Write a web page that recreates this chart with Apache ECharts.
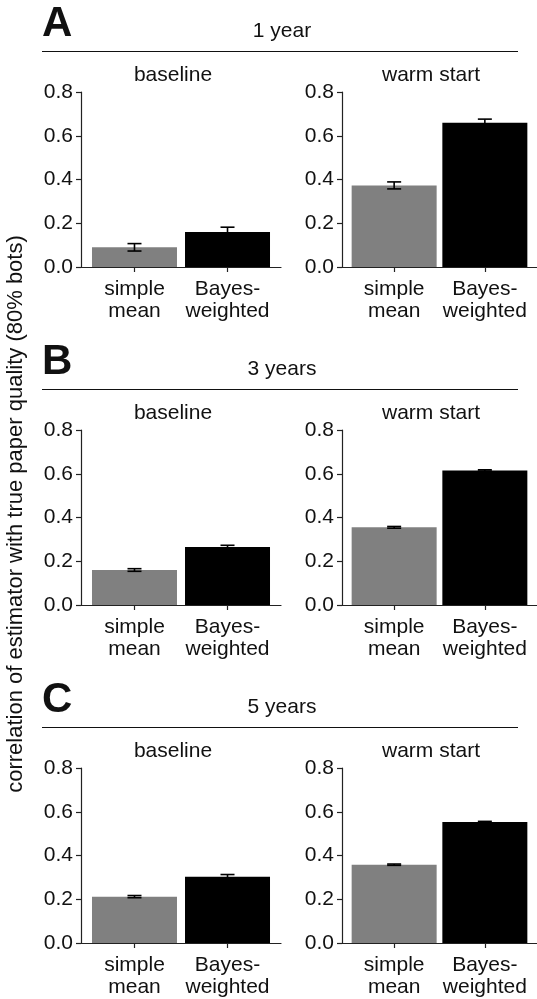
<!DOCTYPE html>
<html>
<head>
<meta charset="UTF-8">
<title>estimator correlation</title>
<script src="https://cdn.jsdelivr.net/npm/echarts@6/dist/echarts.min.js"></script>
</head>
<body style="margin:0;background:#fff">
<div id="main" style="width:537px;height:999px;"></div>
<script>
// data
var categories = ['simple\nmean', 'Bayes-\nweighted'];
var horizons = ['1 year', '3 years', '5 years'];
var panelLetters = ['A', 'B', 'C'];
var conditions = ['baseline', 'warm start'];
// [simple mean, Bayes-weighted] for each horizon
var baselineMeans = [[0.090, 0.160], [0.160, 0.265], [0.212, 0.303]];
var baselineErr   = [[0.017, 0.022], [0.006, 0.008], [0.005, 0.010]];
var warmMeans     = [[0.373, 0.660], [0.355, 0.615], [0.358, 0.553]];
var warmErr       = [[0.016, 0.016], [0.004, 0.003], [0.003, 0.003]];
var barColors = ['#808080', '#000000'];

var FONT = '"Liberation Sans", Arial, sans-serif';
var rowStep = 338;
var gridTop0 = 92, gridH = 175;
var gridLefts = [81, 342], gridW = 200;

var myChart = echarts.init(document.getElementById('main'));

var grids = [], xAxes = [], yAxes = [], series = [], graphics = [];

function renderErr(params, api) {
    var x = api.value(0), lo = api.value(1), hi = api.value(2);
    var a = api.coord([x, hi]), b = api.coord([x, lo]);
    var h = 7;
    var st = { stroke: '#000', lineWidth: 1.6 };
    return {
        type: 'group',
        children: [
            { type: 'line', shape: { x1: a[0], y1: a[1], x2: b[0], y2: b[1] }, style: st },
            { type: 'line', shape: { x1: a[0] - h, y1: a[1], x2: a[0] + h, y2: a[1] }, style: st },
            { type: 'line', shape: { x1: b[0] - h, y1: b[1], x2: b[0] + h, y2: b[1] }, style: st }
        ]
    };
}

for (var r = 0; r < 3; r++) {
    var dy = r * rowStep;
    // panel letter, row title, separator line
    graphics.push({ type: 'text', left: 42, top: 3 + dy,
        style: { text: panelLetters[r], font: 'bold 42px ' + FONT, fill: '#111' } });
    graphics.push({ type: 'text', x: 282, y: 31 + dy,
        style: { text: horizons[r], font: '21px ' + FONT, fill: '#111', align: 'center', verticalAlign: 'middle' } });
    graphics.push({ type: 'line', shape: { x1: 42, y1: 51.5 + dy, x2: 518, y2: 51.5 + dy },
        style: { stroke: '#111', lineWidth: 1.2 } });

    for (var c = 0; c < 2; c++) {
        var idx = r * 2 + c;
        var means = c === 0 ? baselineMeans[r] : warmMeans[r];
        var errs = c === 0 ? baselineErr[r] : warmErr[r];

        grids.push({ left: gridLefts[c], top: gridTop0 + dy, width: gridW, height: gridH });
        graphics.push({ type: 'text', x: c === 0 ? 173 : 431, y: 75 + dy,
            style: { text: conditions[c], font: '21px ' + FONT, fill: '#111', align: 'center', verticalAlign: 'middle' } });

        xAxes.push({
            type: 'value', gridIndex: idx, min: -0.575, max: 1.575,
            splitLine: { show: false },
            axisLine: { show: true, onZero: false, lineStyle: { color: '#222', width: 1.2 } },
            axisTick: { show: true, customValues: [0, 1], length: 5, lineStyle: { color: '#222', width: 1.2 } },
            axisLabel: {
                customValues: [0, 1], margin: 11, color: '#111', fontSize: 21, fontFamily: FONT, lineHeight: 22,
                formatter: function (v) { return categories[Math.round(v)]; }
            }
        });
        yAxes.push({
            type: 'value', gridIndex: idx, min: 0, max: 0.8, interval: 0.2,
            splitLine: { show: false },
            axisLine: { show: true, onZero: false, lineStyle: { color: '#222', width: 1.2 } },
            axisTick: { show: true, length: 5, lineStyle: { color: '#222', width: 1.2 } },
            axisLabel: {
                margin: 8, color: '#111', fontSize: 21, fontFamily: FONT,
                formatter: function (v) { return v.toFixed(1); }
            }
        });

        series.push({
            type: 'bar', xAxisIndex: idx, yAxisIndex: idx, barWidth: 85,
            data: means.map(function (m, i) {
                return { value: [i, m], itemStyle: { color: barColors[i] } };
            })
        });
        series.push({
            type: 'custom', xAxisIndex: idx, yAxisIndex: idx, z: 5,
            renderItem: renderErr,
            encode: { x: 0, y: [1, 2] },
            data: means.map(function (m, i) { return [i, m - errs[i], m + errs[i]]; })
        });
    }
}

// shared y-axis title
graphics.push({ type: 'text', x: 16, y: 514, rotation: Math.PI / 2,
    style: { text: 'correlation of estimator with true paper quality (80% bots)', font: '22px ' + FONT,
        fill: '#111', align: 'center', verticalAlign: 'middle' } });

myChart.setOption({
    animation: false,
    grid: grids,
    xAxis: xAxes,
    yAxis: yAxes,
    series: series,
    graphic: graphics
});
</script>
</body>
</html>
